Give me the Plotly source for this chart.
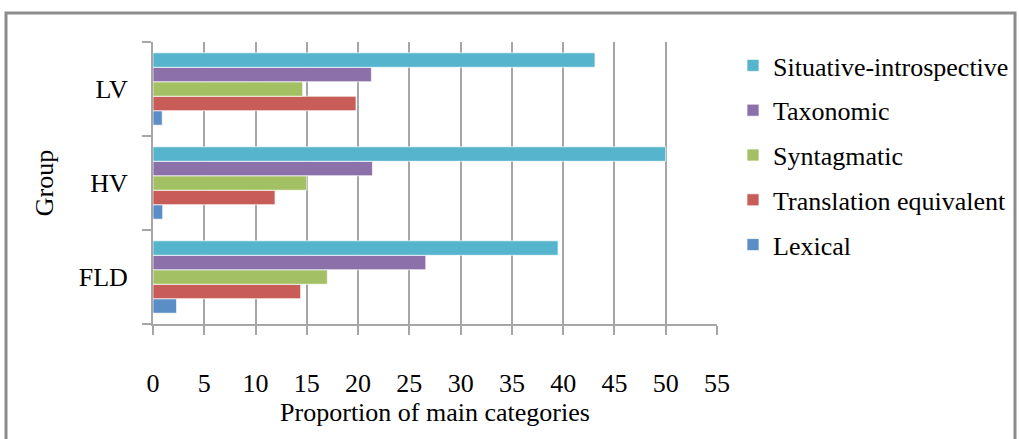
import plotly.graph_objects as go

groups = ["FLD", "HV", "LV"]
series_names = ["Lexical", "Translation equivalent", "Syntagmatic", "Taxonomic", "Situative-introspective"]
lexical = [2.3, 0.95, 0.9]
translation = [14.4, 11.9, 19.8]
syntagmatic = [17.0, 15.0, 14.6]
taxonomic = [26.6, 21.4, 21.3]
situative = [39.5, 50.0, 43.1]
values = [lexical, translation, syntagmatic, taxonomic, situative]
colors = ["#5B8DC6", "#C85C58", "#A4C064", "#8B70A9", "#56B4CD"]
legend_ranks = [5, 4, 3, 2, 1]
x_ticks = list(range(0, 56, 5))

W, H = 1019, 439
L, R, T, B = 153, 717, 42, 324

fig = go.Figure()
for name, vals, col, rank in zip(series_names, values, colors, legend_ranks):
    fig.add_trace(go.Bar(
        y=groups, x=vals, name=name, orientation="h",
        marker=dict(color=col, line=dict(color="rgba(255,255,255,0.7)", width=1)),
        legendgroup=name, legendrank=rank,
    ))

font_family = "Liberation Serif, Times New Roman, serif"
FS = 26

def px_x(p):
    return (p - L) / (R - L)

def px_y(p):
    return (B - p) / (B - T)

fig.update_layout(
    width=W, height=H,
    margin=dict(l=L, r=W - R, t=T, b=H - B, pad=0, autoexpand=False),
    barmode="group", bargap=0.23, bargroupgap=0,
    plot_bgcolor="white", paper_bgcolor="white",
    font=dict(family=font_family, size=FS, color="black"),
    legend=dict(
        x=px_x(733), y=px_y(42), xanchor="left", yanchor="top",
        traceorder="grouped", tracegroupgap=8,
        font=dict(family=font_family, size=FS, color="black"),
        bgcolor="rgba(0,0,0,0)",
    ),
    xaxis=dict(
        range=[0, 55], tickvals=x_ticks, showgrid=True,
        gridcolor="#A6A6A6", gridwidth=2,
        showline=True, linecolor="#A6A6A6", linewidth=2,
        ticks="outside", ticklen=9, tickcolor="#A6A6A6", tickwidth=2,
        ticklabelstandoff=26, zeroline=False,
        title=dict(text="Proportion of main categories", standoff=6,
                   font=dict(family=font_family, size=FS)),
        tickfont=dict(family=font_family, size=FS),
    ),
    yaxis=dict(
        type="category", categoryorder="array", categoryarray=groups,
        showgrid=False, showline=True, linecolor="#A6A6A6", linewidth=2,
        ticks="outside", tickson="boundaries", ticklen=9, tickcolor="#A6A6A6", tickwidth=2,
        ticklabelstandoff=18,
        title=dict(text="Group", standoff=18, font=dict(family=font_family, size=FS)),
        tickfont=dict(family=font_family, size=FS),
    ),
)

fig.add_shape(type="rect", xref="paper", yref="paper",
              x0=px_x(6), x1=px_x(1015), y0=px_y(460), y1=px_y(13),
              line=dict(color="#8C8C8C", width=3), fillcolor="rgba(0,0,0,0)", layer="below")

fig.write_html("out.html", config={"displayModeBar": False},
               post_script="document.body.style.margin='0';document.body.style.overflow='hidden';")
